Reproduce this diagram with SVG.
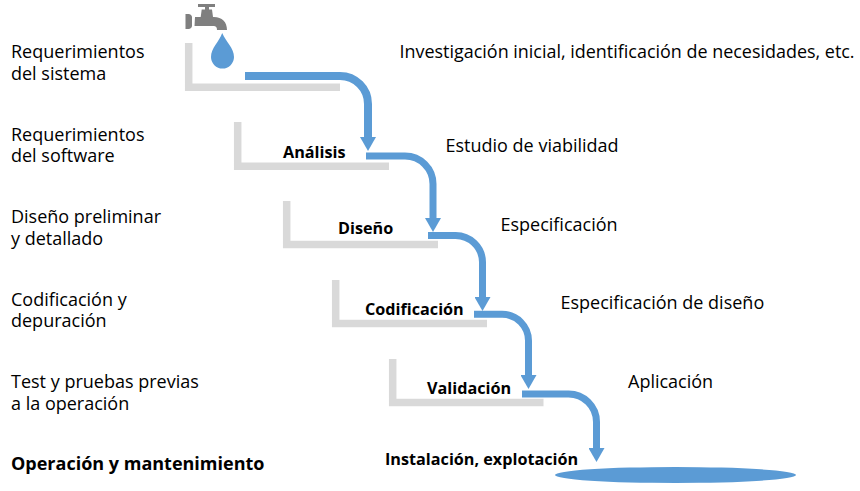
<svg xmlns="http://www.w3.org/2000/svg" width="860" height="491" viewBox="0 0 860 491">
<style>
text{font-family:"Open Sans","Noto Sans",sans-serif;font-size:18px;fill:#000}
.b{font-weight:700;font-size:16.200px}
.g{fill:none;stroke:#d9d9d9;stroke-width:7.5}
.f{fill:none;stroke:#5b9bd5;stroke-width:7}
.h{fill:#5b9bd5}
</style>
<defs>
<marker id="a" markerUnits="userSpaceOnUse" markerWidth="14" markerHeight="16" refX="0" refY="8" orient="auto" viewBox="0 0 14 16"><path d="M0 0L14 8L0 16Z" fill="#5b9bd5"/></marker>
</defs>
<rect width="860" height="491" fill="#fff"/>
<g id="steps">
<path class="g" d="M188.700 43V87.300H340"/>
<path class="g" d="M237.700 122V166.300H389"/>
<path class="g" d="M286.700 201V244.500H438"/>
<path class="g" d="M335.700 280V323.500H487"/>
<path class="g" d="M392.700 359V402.500H543.500"/>
</g>
<g id="tap">
<path fill="#7f7f7f" d="M185.500 14h3c2 0 3.500 1.500 3.500 3v9c0 1.500-1.500 3-3.500 3h-3zM195 17h5.700l1-7.500H205V7h-7V4h17v3h-6v2.500h3l1 7.500h1c8 0 13 5 13 13h-10c0-3-1-4-4-4h-18.500z"/>
<path class="h" d="M222.200 33C219 42 211 48 211 57a11.500 11.500 0 0 0 23 0C234 48 226 42 222.200 33Z"/>
</g>
<g id="connectors">
<path class="f" style="stroke-width:8" d="M245 76H340A28 28 0 0 1 368 104V137" marker-end="url(#a)"/>
<path class="f" d="M366 156H405A28 28 0 0 1 433 184V218" marker-end="url(#a)"/>
<path class="f" d="M428 235.500H455A27 27 0 0 1 482.500 262V297" marker-end="url(#a)"/>
<path class="f" d="M474 314.300H502A26.500 26.500 0 0 1 528.500 341V375" marker-end="url(#a)"/>
<path class="f" d="M522 394H568A28 28 0 0 1 596.500 422V448" marker-end="url(#a)"/>
</g>
<ellipse id="pool" class="h" cx="675.500" cy="475" rx="120.500" ry="8"/>
<g id="n1"><text x="11" y="58">Requerimientos<tspan x="11" y="80">del sistema</tspan></text></g>
<g id="n2"><text x="11" y="141">Requerimientos<tspan x="11" y="162">del software</tspan></text></g>
<g id="n3"><text x="11" y="223">Diseño preliminar<tspan x="11" y="245">y detallado</tspan></text></g>
<g id="n4"><text x="11" y="306">Codificación y<tspan x="11" y="327">depuración</tspan></text></g>
<g id="n5"><text x="11" y="388">Test y pruebas previas<tspan x="11" y="410">a la operación</tspan></text></g>
<g id="n6"><text x="11" y="470" style="font-weight:700">Operación y mantenimiento</text></g>
<g id="s1"><text class="b" x="283" y="158">Análisis</text></g>
<g id="s2"><text class="b" x="338" y="234">Diseño</text></g>
<g id="s3"><text class="b" x="365" y="315">Codificación</text></g>
<g id="s4"><text class="b" x="427" y="394">Validación</text></g>
<g id="s5"><text class="b" x="385" y="465">Instalación, explotación</text></g>
<g id="r1"><text x="399.500" y="58" style="font-size:17.950px">Investigación inicial, identificación de necesidades, etc.</text></g>
<g id="r2"><text x="445.500" y="152">Estudio de viabilidad</text></g>
<g id="r3"><text x="500.500" y="231">Especificación</text></g>
<g id="r4"><text x="560.500" y="309">Especificación de diseño</text></g>
<g id="r5"><text x="628" y="388">Aplicación</text></g>
</svg>
